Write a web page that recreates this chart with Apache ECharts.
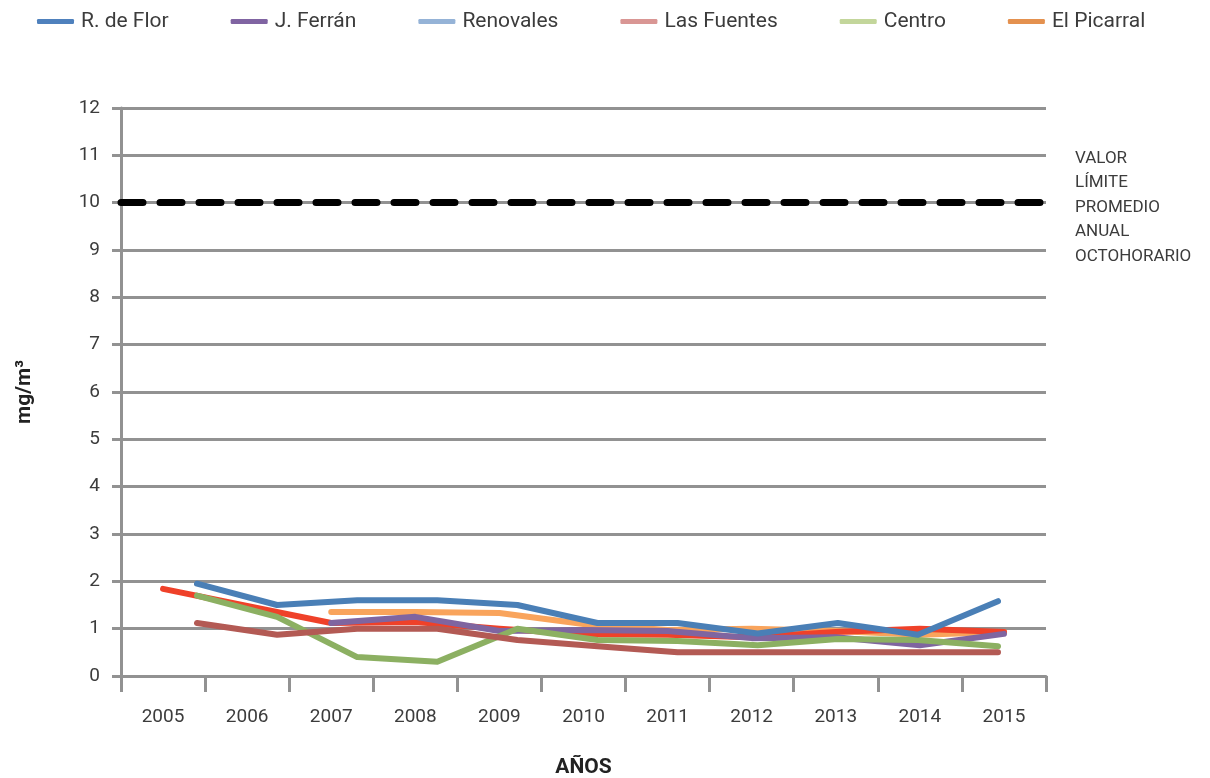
<!DOCTYPE html>
<html>
<head>
<meta charset="utf-8">
<script src="https://cdn.jsdelivr.net/npm/echarts@6/dist/echarts.min.js"></script>
<style>
    html, body { margin: 0; padding: 0; background: #fff; }
    #chart { width: 1210px; height: 778px; }
</style>
</head>
<body>
<div id="chart"></div>
<script>
// Categories
const years = ['2005', '2006', '2007', '2008', '2009', '2010', '2011', '2012', '2013', '2014', '2015'];

// Series values (mg/m3)
const rDeFlor = [1.95, 1.5, 1.6, 1.6, 1.5, 1.12, 1.12, 0.9, 1.12, 0.87, 1.58];
const jFerran = [null, null, 1.12, 1.25, 0.95, 0.97, 0.95, 0.8, 0.82, 0.65, 0.89];
const renovales = [1.84, 1.48, 1.12, 1.14, 1.0, 0.88, 0.87, 0.82, 0.93, 1.0, 0.93];
const lasFuentes = [1.12, 0.87, 1.0, 1.0, 0.76, 0.63, 0.5, 0.5, 0.5, 0.5, 0.5];
const centro = [1.7, 1.25, 0.4, 0.3, 1.0, 0.76, 0.74, 0.65, 0.78, 0.76, 0.63];
const elPicarral = [null, null, 1.35, 1.35, 1.33, 1.1, 0.97, 1.0, 0.95, 0.87, 0.93];

// Limit value
const limitValue = 10;
const limitLabel = 'VALOR\nLÍMITE\nPROMEDIO\nANUAL\nOCTOHORARIO';

// Legend names and their swatch colours
const legendNames = ['R. de Flor', 'J. Ferrán', 'Renovales', 'Las Fuentes', 'Centro', 'El Picarral'];
const legendColors = ['#4f81bd', '#8064a2', '#95b3d7', '#d99694', '#c3d69b', '#e4914f'];

const gridColor = '#929292';
const textColor = '#3c3c3c';
const fontFamily = 'Roboto, "DejaVu Sans", sans-serif';

const chart = echarts.init(document.getElementById('chart'));

function lineSeries(name, data, color, axisIdx) {
    return {
        name: name,
        type: 'line',
        xAxisIndex: axisIdx,
        yAxisIndex: axisIdx,
        data: data,
        symbol: 'none',
        connectNulls: false,
        lineStyle: { color: color, width: 6, cap: 'round', join: 'round' },
        itemStyle: { color: color },
        emphasis: { disabled: true },
        silent: true
    };
}

const yAxisBase = {
    type: 'value',
    min: 0,
    max: 12,
    interval: 1
};

chart.setOption({
    animation: false,
    textStyle: { fontFamily: fontFamily },
    legend: {
        left: 32,
        top: 6,
        icon: 'roundRect',
        itemWidth: 37,
        itemHeight: 5,
        itemGap: 62,
        textStyle: { color: textColor, fontSize: 21, fontFamily: fontFamily, padding: [0, 0, 0, 2] },
        data: legendNames.map((n, i) => ({ name: n, itemStyle: { color: legendColors[i] } }))
    },
    grid: [
        { left: 121, right: 164, top: 108, bottom: 102, outerBoundsMode: 'none' },
        { left: 197, right: 212, top: 108, bottom: 102, outerBoundsMode: 'none' }
    ],
    xAxis: [
        {
            type: 'category',
            gridIndex: 0,
            data: years,
            boundaryGap: true,
            name: 'AÑOS',
            nameLocation: 'middle',
            nameGap: 81,
            nameTextStyle: { color: '#222', fontSize: 21, fontWeight: 'bold', fontFamily: fontFamily },
            axisLine: { lineStyle: { color: gridColor, width: 3 } },
            axisTick: { show: true, length: 16, lineStyle: { color: gridColor, width: 3 } },
            axisLabel: { color: textColor, fontSize: 19, margin: 32 },
            splitLine: { show: false }
        },
        {
            type: 'category',
            gridIndex: 1,
            data: years,
            boundaryGap: false,
            show: false
        }
    ],
    yAxis: [
        Object.assign({}, yAxisBase, {
            gridIndex: 0,
            name: 'mg/m³',
            nameLocation: 'middle',
            nameGap: 86,
            nameRotate: 90,
            nameTextStyle: { color: '#222', fontSize: 21, fontWeight: 'bold', fontFamily: fontFamily },
            axisLine: { show: true, lineStyle: { color: gridColor, width: 3 } },
            axisTick: { show: true, length: 9, lineStyle: { color: gridColor, width: 3 } },
            axisLabel: { color: textColor, fontSize: 19, margin: 21 },
            splitLine: { show: true, lineStyle: { color: gridColor, width: 3 } }
        }),
        Object.assign({}, yAxisBase, { gridIndex: 1, show: false })
    ],
    graphic: [
        {
            type: 'text',
            left: 1075,
            top: 146,
            style: {
                text: limitLabel,
                fill: textColor,
                font: '17px ' + fontFamily,
                lineHeight: 24.5
            }
        }
    ],
    series: [
        lineSeries('El Picarral', elPicarral, '#f9a45c', 0),
        Object.assign(lineSeries('Renovales', renovales, '#ef4129', 0), {
            markLine: {
                silent: true,
                symbol: 'none',
                label: { show: false },
                lineStyle: { color: '#000', width: 7, type: [22, 17], cap: 'round' },
                data: [{ yAxis: limitValue }]
            }
        }),
        lineSeries('J. Ferrán', jFerran, '#7f65a0', 0),
        lineSeries('Centro', centro, '#8cb062', 1),
        lineSeries('Las Fuentes', lasFuentes, '#b35a54', 1),
        lineSeries('R. de Flor', rDeFlor, '#4a7fb6', 1)
    ]
});

window.addEventListener('resize', () => chart.resize());
</script>
</body>
</html>
